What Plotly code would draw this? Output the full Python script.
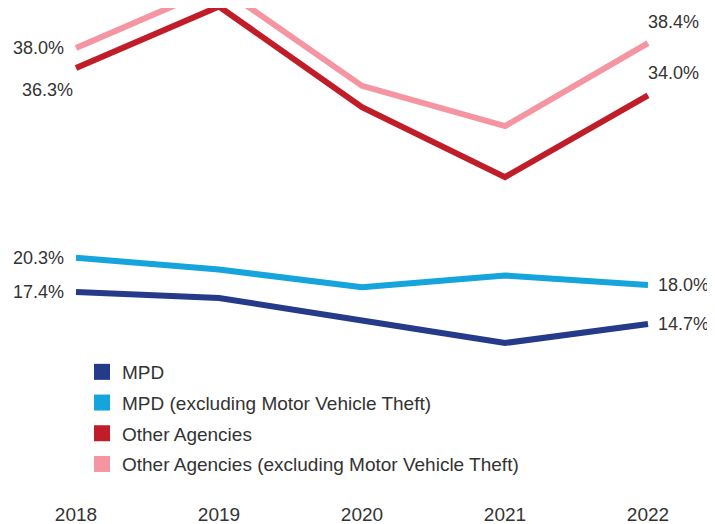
import plotly.graph_objects as go

years = [2018, 2019, 2020, 2021, 2022]
mpd = [17.4, 16.9, 15.0, 13.1, 14.7]
mpd_excl = [20.3, 19.3, 17.8, 18.8, 18.0]
other = [36.3, 41.5, 33.0, 27.1, 34.0]
other_excl = [38.0, 43.2, 34.8, 31.4, 38.4]

series = [
    ("MPD", mpd, "#253A89"),
    ("MPD (excluding Motor Vehicle Theft)", mpd_excl, "#15A4DC"),
    ("Other Agencies", other, "#C11D29"),
    ("Other Agencies (excluding Motor Vehicle Theft)", other_excl, "#F495A1"),
]

FONT = "Liberation Sans, Arial, sans-serif"
TXT = "#333333"

W, H = 707, 516
B = 23
PH = H - B
PX_YEAR = 143
X0 = 68  # pixel of first year inside the figure
PX_UNIT = 11.85
YTOP = 41.37

fig = go.Figure()
for i, (name, vals, col) in enumerate(series):
    fig.add_trace(go.Scatter(x=years, y=vals, mode="lines", name=name,
                             line=dict(color=col, width=6), showlegend=False,
                             hoverinfo="skip"))
for i, (name, vals, col) in enumerate(series):
    fig.add_trace(go.Scatter(x=[None], y=[None], mode="markers", name=name,
                             marker=dict(symbol="square", size=16, color=col),
                             legendgroup="g%d" % i, showlegend=True))

# end labels: (series index, point index, xshift, yshift, anchor)
label_specs = [
    (3, 0, -10, 0, "right"),
    (2, 0, -1, -22, "right"),
    (1, 0, -10, 0, "right"),
    (0, 0, -10, 0, "right"),
    (3, -1, -2, 21, "left"),
    (2, -1, -2, 22, "left"),
    (1, -1, 8, 0, "left"),
    (0, -1, 8, 0, "left"),
]
for si, pi, xs, ys, anc in label_specs:
    vals = series[si][1]
    fig.add_annotation(x=years[pi], y=vals[pi], xref="x", yref="y",
                       text=f"{vals[pi]:.1f}%", showarrow=False,
                       xanchor=anc, yanchor="middle", xshift=xs, yshift=ys,
                       font=dict(family=FONT, size=18, color=TXT))

fig.update_layout(
    width=W, height=H,
    margin=dict(l=0, r=0, t=0, b=B),
    paper_bgcolor="white", plot_bgcolor="white",
    showlegend=True,
    legend=dict(x=74 / W, y=1 - 345 / PH, xanchor="left", yanchor="top",
                font=dict(family=FONT, size=19, color=TXT),
                bgcolor="rgba(0,0,0,0)", tracegroupgap=3,
                traceorder="grouped", itemclick=False),
    xaxis=dict(range=[2018 - X0 / PX_YEAR, 2018 + (W - X0) / PX_YEAR],
               showgrid=False, zeroline=False, showline=False, tickvals=years,
               ticktext=[str(y) for y in years], automargin=False,
               tickfont=dict(family=FONT, size=19, color=TXT)),
    yaxis=dict(range=[YTOP - PH / PX_UNIT, YTOP], visible=False,
               showgrid=False, zeroline=False, automargin=False),
)

fig.write_html("out.html")
